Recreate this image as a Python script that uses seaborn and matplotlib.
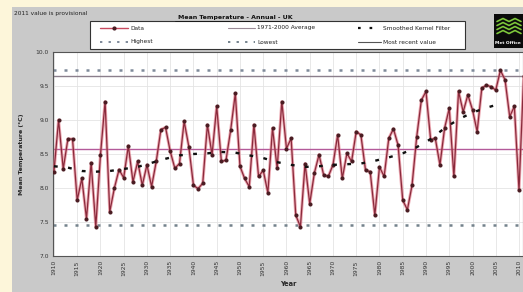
import numpy as np
import pandas as pd
import matplotlib
matplotlib.use("Agg")
import matplotlib.pyplot as plt
import seaborn as sns
from matplotlib.patches import Rectangle
from matplotlib.lines import Line2D

years = list(range(1910, 2012))
temps = [8.24, 9.00, 8.28, 8.72, 8.72, 7.82, 8.14, 7.55, 8.37, 7.43,
         8.48, 9.27, 7.65, 8.00, 8.27, 8.15, 8.62, 8.09, 8.39, 8.04,
         8.34, 8.02, 8.39, 8.86, 8.89, 8.54, 8.29, 8.36, 8.98, 8.61,
         8.04, 7.99, 8.07, 8.93, 8.49, 9.20, 8.39, 8.41, 8.85, 9.39,
         8.32, 8.14, 8.02, 8.93, 8.17, 8.26, 7.93, 8.88, 8.29, 9.27,
         8.58, 8.73, 7.60, 7.43, 8.36, 7.77, 8.22, 8.49, 8.19, 8.17,
         8.34, 8.78, 8.14, 8.51, 8.39, 8.83, 8.78, 8.26, 8.24, 7.60,
         8.31, 8.17, 8.73, 8.87, 8.63, 7.82, 7.68, 8.04, 8.75, 9.29,
         9.42, 8.71, 8.73, 8.34, 8.88, 9.17, 8.17, 9.42, 9.12, 9.37,
         9.15, 8.83, 9.47, 9.51, 9.49, 9.44, 9.73, 9.59, 9.05, 9.20,
         7.97, 9.64]

smooth_years = [1910, 1913, 1916, 1919, 1922, 1925, 1928, 1931, 1934, 1937,
                1940, 1943, 1946, 1949, 1952, 1955, 1958, 1961, 1964, 1967,
                1970, 1973, 1976, 1979, 1982, 1985, 1988, 1991, 1994, 1997,
                2000, 2003, 2006]
smooth_vals = [8.32, 8.30, 8.25, 8.24, 8.25, 8.28, 8.31, 8.37, 8.43, 8.48,
               8.50, 8.51, 8.53, 8.52, 8.48, 8.44, 8.38, 8.34, 8.31, 8.32,
               8.34, 8.35, 8.36, 8.40, 8.45, 8.51, 8.60, 8.72, 8.88, 9.01,
               9.11, 9.18, 9.24]

average_1971_2000 = 8.58
highest = 9.73
lowest = 7.45
most_recent = 9.64

xticks = list(range(1910, 2011, 5))
yticks = [7.0, 7.5, 8.0, 8.5, 9.0, 9.5, 10.0]

title = "Mean Temperature - Annual - UK"
note = "2011 value is provisional"

df = pd.DataFrame({"Year": years, "Temp": temps})
sdf = pd.DataFrame({"Year": smooth_years, "Temp": smooth_vals})

sns.set_style("white")
plt.rcParams["font.family"] = ["DejaVu Sans"]

W, H = 523, 292
fig = plt.figure(figsize=(W / 100, H / 100), dpi=100)
fig.patch.set_facecolor("#fdf6da")
fig.patches.append(Rectangle((12 / W, 0), 1 - 12 / W, 1 - 7 / H, transform=fig.transFigure,
                             facecolor="#c9c9c9", edgecolor="none", zorder=-5))

ax = fig.add_axes([53 / W, 36 / H, 1 - 53 / W, 204 / H])
ax.set_zorder(2)
ax.set_facecolor("white")

ax.set_xlim(1909.8, 1910 + 470 / 4.66)
ax.set_ylim(7.0, 10.0)
ax.set_xticks(xticks)
ax.set_yticks(yticks)
ax.set_xticklabels([str(v) for v in xticks], rotation=90, fontsize=4.3, color="#333333")
ax.set_yticklabels([f"{v:.1f}" for v in yticks], fontsize=4.3, color="#333333")
ax.tick_params(axis="both", length=0, pad=3)
ax.grid(True, color="#e4e4e4", linewidth=0.6)
ax.set_axisbelow(True)
for s in ax.spines.values():
    s.set_color("#555555")
    s.set_linewidth(0.8)

ax.axhline(highest, color="#7f8a9a", linestyle=(0, (1.2, 3.2)), linewidth=1.8, zorder=2)
ax.axhline(most_recent, color="#8b7f8c", linewidth=1.0, zorder=2)
ax.axhline(average_1971_2000, color="#b35a9a", linewidth=1.0, zorder=2)
ax.axhline(lowest, color="#74828c", linestyle=(0, (1.2, 3.2)), linewidth=1.8, zorder=2)

sns.lineplot(data=df, x="Year", y="Temp", ax=ax, color="#e07080", linewidth=2.2, alpha=0.6,
             zorder=3)
sns.lineplot(data=df, x="Year", y="Temp", ax=ax, color="#8a2a3c", linewidth=0.9,
             marker="o", markersize=2.2, markerfacecolor="#4a1c22", markeredgecolor="#4a1c22",
             zorder=4)
sns.lineplot(data=sdf, x="Year", y="Temp", ax=ax, color="#111111", linewidth=1.7,
             linestyle=(0, (1.6, 4.4)), zorder=5)

ax.set_xlabel("Year", fontsize=4.8, fontweight="bold", labelpad=4)
ax.set_ylabel("Mean Temperature (\u00b0C)", fontsize=4.5, fontweight="bold", labelpad=8)

fig.text(14 / W, 1 - 14 / H, note, fontsize=4.2, color="#222222", va="center", ha="left")
fig.text(235 / W, 1 - 17 / H, title, fontsize=4.5, fontweight="bold", color="#111111",
         va="center", ha="center")
fig.add_artist(Line2D([175 / W, 295 / W], [1 - 20.5 / H] * 2, color="#111111", linewidth=0.5))

# legend box
fig.patches.append(Rectangle((90 / W, 1 - 49 / H), 375 / W, 28 / H, transform=fig.transFigure,
                             facecolor="white", edgecolor="#333333", linewidth=0.8, zorder=1))
r1, r2 = 1 - 28 / H, 1 - 42 / H
def leg_line(x0, x1, y, **kw):
    fig.add_artist(Line2D([x0 / W, x1 / W], [y, y], transform=fig.transFigure, zorder=3, **kw))
leg_line(100, 128, r1, color="#c84a60", linewidth=1.0)
fig.add_artist(Line2D([114 / W], [r1], transform=fig.transFigure, marker="o", markersize=2,
                      color="#4a1c22", linestyle="none", zorder=3))
leg_line(228, 255, r1, color="#9a8a96", linewidth=0.8)
leg_line(358, 381, r1, color="#111111", linewidth=1.6, linestyle=(0, (1.2, 4)))
leg_line(100, 128, r2, color="#7f8a9a", linewidth=1.4, linestyle=(0, (1.2, 3.2)))
leg_line(228, 255, r2, color="#74828c", linewidth=1.4, linestyle=(0, (1.2, 3.2)))
leg_line(358, 381, r2, color="#555555", linewidth=0.8)
for x, y, t in [(130, r1, "Data"), (257, r1, "1971-2000 Average"), (383, r1, "Smoothed Kernel Filter"),
                (130, r2, "Highest"), (257, r2, "Lowest"), (383, r2, "Most recent value")]:
    fig.text(x / W, y, t, fontsize=4.2, color="#222222", va="center", ha="left", zorder=3)

# logo
fig.patches.append(Rectangle((494 / W, 1 - 48 / H), 29 / W, 34 / H, transform=fig.transFigure,
                             facecolor="#0a0a0a", edgecolor="none", zorder=1))
for i, yy in enumerate([20, 24, 28, 32]):
    xs = np.array([497, 503, 509, 515, 521])
    ys = 1 - (yy + np.array([1.5, -1.5, 1.5, -1.5, 1.5])) / H
    fig.add_artist(Line2D(xs / W, ys, transform=fig.transFigure, color="#7cc63a", linewidth=1.2,
                          zorder=3))
fig.text(508 / W, 1 - 43 / H, "Met Office", fontsize=3.2, fontweight="bold", color="white",
         va="center", ha="center", zorder=3)

fig.savefig("out.png", dpi=100, facecolor=fig.get_facecolor())
